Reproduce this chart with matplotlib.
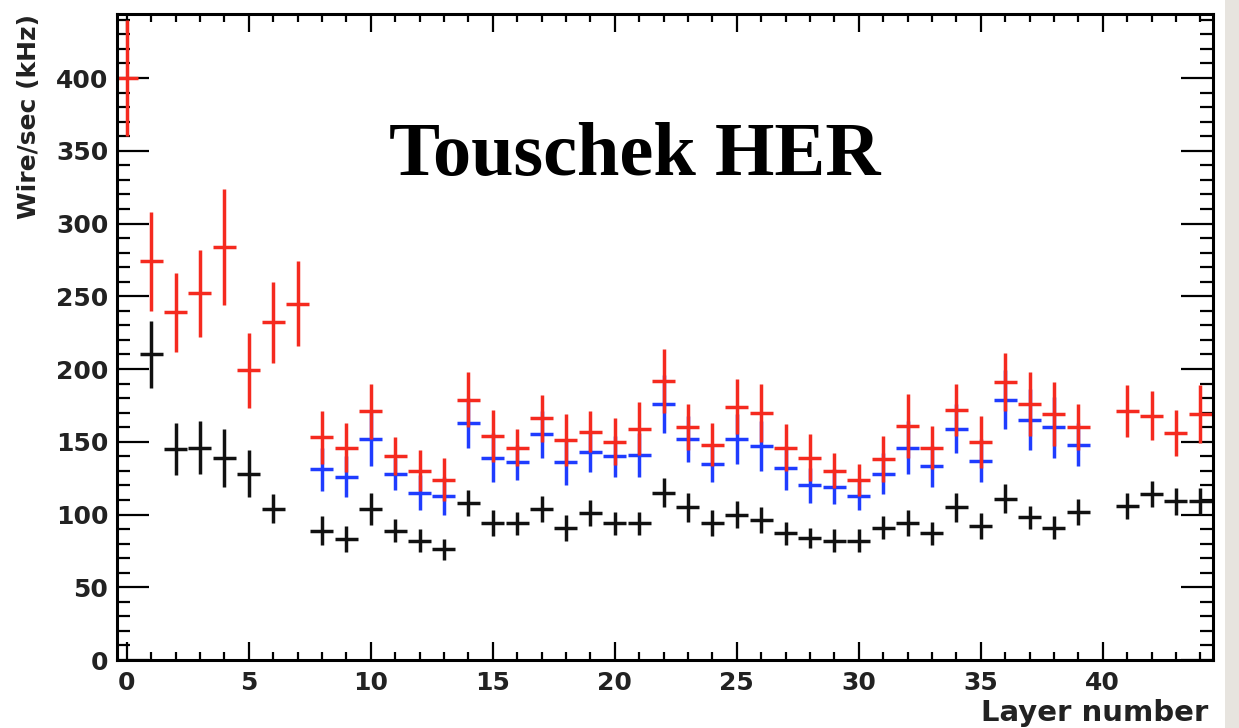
import numpy as np
import matplotlib
matplotlib.use("Agg")
import matplotlib.pyplot as plt
from matplotlib.ticker import MultipleLocator
from matplotlib.patches import Rectangle

# Capas con medida (la capa 40 no tiene datos)
capas_roja = list(range(0, 40)) + [41, 42, 43, 44]
valor_roja = [400, 274, 239, 252, 284, 199, 232, 245, 153, 146,
              171, 140, 130, 124, 179, 154, 146, 166, 151, 157,
              150, 159, 192, 160, 148, 174, 170, 146, 139, 130,
              124, 138, 161, 146, 172, 150, 191, 176, 169, 160,
              171, 168, 156, 169]
error_roja = [40, 34, 27, 30, 40, 26, 28, 29, 18, 17,
              19, 13, 14, 15, 19, 18, 13, 16, 18, 14,
              16, 18, 22, 16, 15, 19, 20, 16, 16, 12,
              11, 16, 22, 15, 18, 18, 20, 22, 22, 16,
              18, 17, 16, 20]

capas_azul = list(range(8, 40))
valor_azul = [131, 126, 152, 128, 115, 113, 163, 139, 136, 155,
              136, 143, 140, 141, 176, 152, 135, 152, 147, 132,
              120, 119, 113, 128, 146, 133, 159, 137, 179, 165,
              160, 148]
error_azul = [15, 14, 19, 11, 12, 13, 17, 17, 12, 16,
              16, 14, 14, 15, 20, 16, 13, 17, 17, 15,
              12, 12, 10, 14, 18, 14, 17, 15, 20, 21,
              21, 15]

capas_negra = [1, 2, 3, 4, 5, 6] + list(range(8, 40)) + [41, 42, 43, 44]
valor_negra = [210, 145, 146, 139, 128, 104,
               89, 83, 104, 89, 82, 76, 108, 94, 94, 104,
               91, 101, 94, 94, 115, 105, 94, 100, 96, 87,
               84, 82, 82, 91, 94, 87, 105, 92, 111, 98,
               91, 102,
               106, 114, 109, 109]
error_negra = [23, 18, 18, 20, 16, 10,
               10, 9, 11, 8, 8, 7, 9, 9, 8, 9,
               9, 9, 8, 8, 10, 10, 9, 9, 9, 8,
               7, 8, 8, 8, 9, 8, 10, 9, 10, 8,
               8, 9,
               9, 9, 9, 9]

fig = plt.figure(figsize=(12.39, 7.28), dpi=100)
fig.patch.set_facecolor('white')
# franja gris a la derecha
fig.patches.append(Rectangle((1225 / 1239, 0), 14 / 1239, 1, transform=fig.transFigure,
                             facecolor='#e7e4df', edgecolor='none', zorder=0))

ax = fig.add_axes([116.7 / 1239, 1 - 660 / 728, (1213 - 116.7) / 1239, (660 - 14) / 728])

series = [
    (capas_negra, valor_negra, error_negra, '#111111'),
    (capas_azul, valor_azul, error_azul, '#1f3cff'),
    (capas_roja, valor_roja, error_roja, '#f52a1f'),
]
for capas, valores, errores, color in series:
    ax.errorbar(capas, valores, yerr=errores, xerr=0.47, fmt='none',
                ecolor=color, elinewidth=2.5, capsize=0)

ax.set_xlim(-0.41, 44.52)
ax.set_ylim(0, 444)

ax.xaxis.set_major_locator(MultipleLocator(5))
ax.xaxis.set_minor_locator(MultipleLocator(1))
ax.yaxis.set_major_locator(MultipleLocator(50))
ax.yaxis.set_minor_locator(MultipleLocator(10))
ax.xaxis.set_ticks([0, 5, 10, 15, 20, 25, 30, 35, 40])

ax.tick_params(axis='both', which='both', direction='in', top=True, right=True, width=1.6)
ax.tick_params(axis='x', which='major', length=13, pad=8)
ax.tick_params(axis='x', which='minor', length=6)
ax.tick_params(axis='y', which='major', length=23, pad=6)
ax.tick_params(axis='y', which='minor', length=9.5)

for lbl in ax.get_xticklabels() + ax.get_yticklabels():
    lbl.set_fontfamily('DejaVu Sans')
    lbl.set_fontweight('bold')
    lbl.set_fontsize(18)
    lbl.set_color('#222222')

for s in ax.spines.values():
    s.set_linewidth(2.2)

fig.text(29 / 1239, 1 - 14 / 728, 'Wire/sec (kHz)', rotation=90, ha='center', va='top',
         fontsize=18, fontweight='bold', family='DejaVu Sans', color='#222222')
fig.text(1208 / 1239, 1 - 721 / 728, 'Layer number', ha='right', va='baseline',
         fontsize=21, fontweight='bold', family='DejaVu Sans', color='#222222')

fig.text(635 / 1239, 1 - 175 / 728, 'Touschek HER', ha='center', va='baseline',
         fontsize=55, fontweight='bold', family='Liberation Serif', color='black')

fig.savefig('out.png', dpi=100)
